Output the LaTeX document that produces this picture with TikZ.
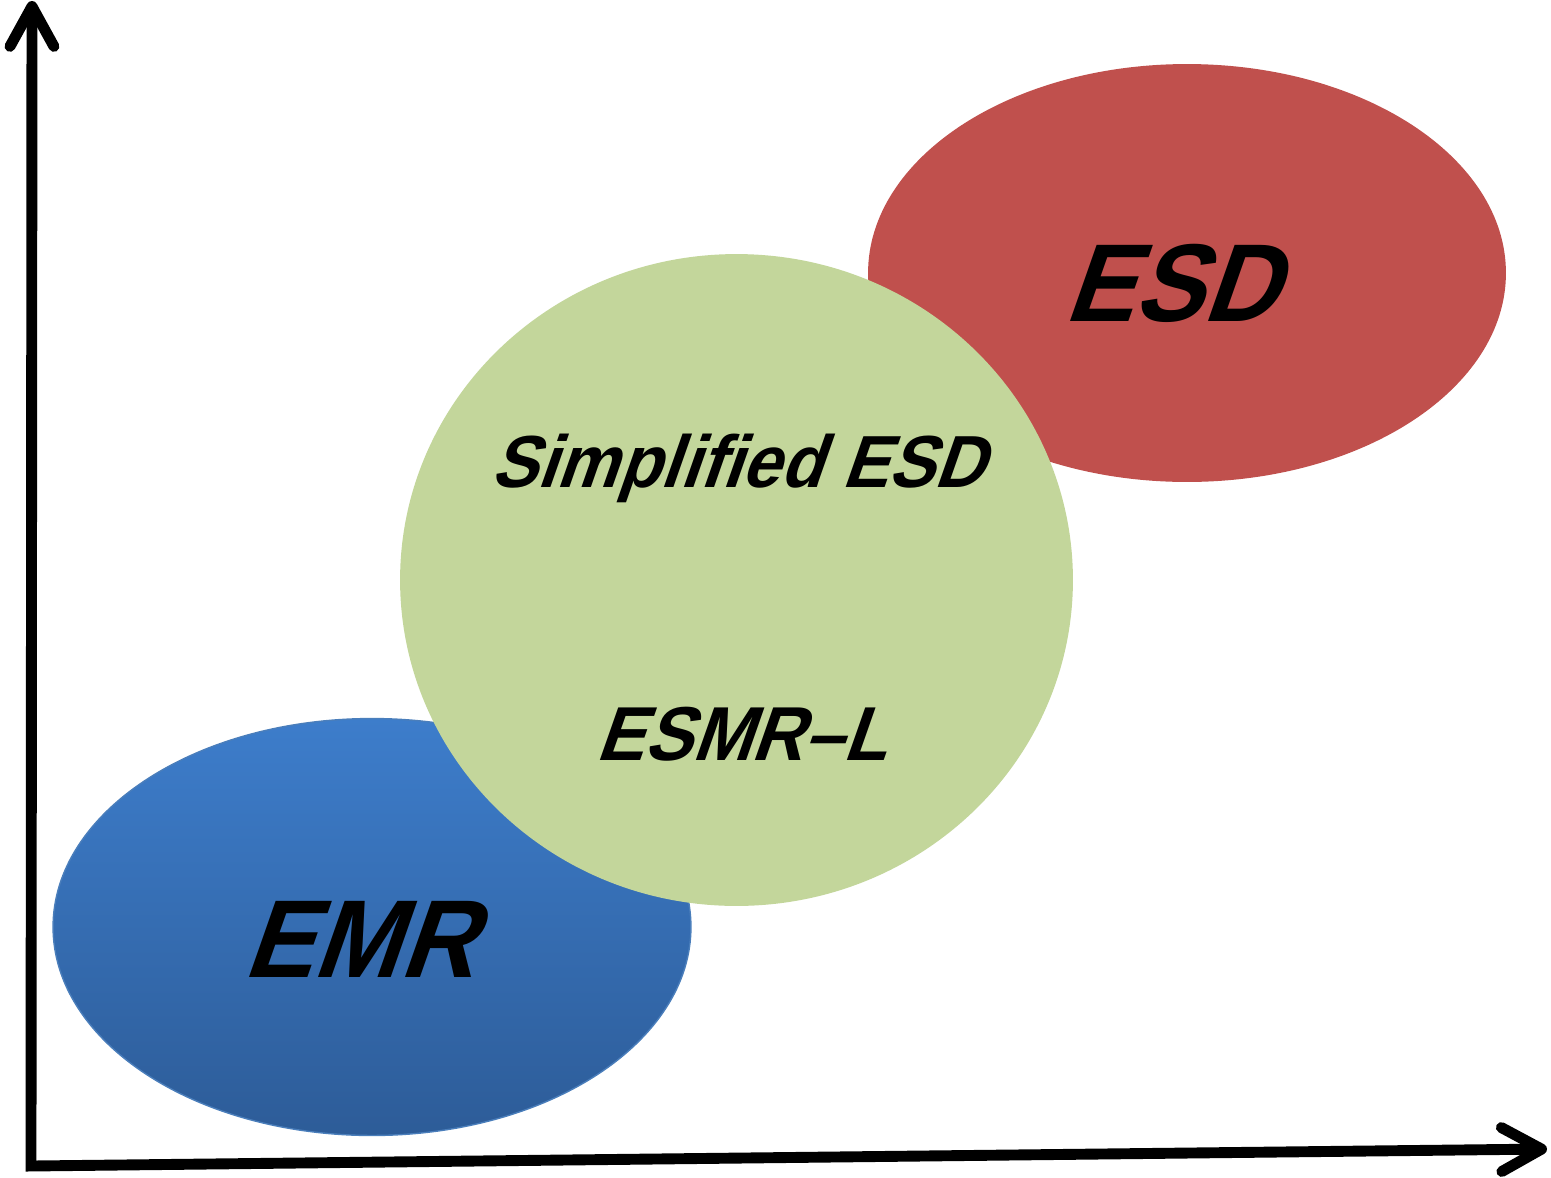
\documentclass[tikz,border=0pt]{standalone}
\usepackage{fontspec}
\setmainfont{Liberation Sans}
\newfontfamily\labelfont[UprightFont={* Bold},FakeSlant=0.35,FakeStretch=0.94]{Liberation Sans}
\usetikzlibrary{arrows.meta,shapes.geometric}

\definecolor{emrtop}{HTML}{3D7DCB}
\definecolor{emrbot}{HTML}{2D5C98}
\definecolor{emredge}{HTML}{4A7EBB}
\definecolor{esdred}{HTML}{C0504D}
\definecolor{simpgreen}{HTML}{C3D69B}

\begin{document}
\begin{tikzpicture}[
      x=0.02cm,y=-0.02cm,
      myellipse/.style={
         ellipse,
         inner sep=0pt,
         outer sep=0pt},
      bigtxt/.style={
         anchor=base,
         inner sep=0pt,
         font=\labelfont\fontsize{63}{70}\selectfont},
      midtxt/.style={
         anchor=base,
         inner sep=0pt,
         font=\labelfont\fontsize{43.5}{48}\selectfont},
      myaxis/.style={
         line width=6.2pt,
         line join=miter,
         {Straight Barb[length=0.8cm,width=0.88cm,round]}-{Straight Barb[length=0.8cm,width=0.88cm,round]}}
      ]
      \useasboundingbox (0,0) rectangle (1551,1177);

      % the three regions, green one on top
      \node[myellipse,minimum width=12.76cm,minimum height=8.34cm,
            top color=emrtop,bottom color=emrbot,draw=emredge,line width=0.8pt] (emr) at (372,927) {};
      \node[myellipse,minimum width=12.76cm,minimum height=8.36cm,fill=esdred] (esd) at (1187,273) {};
      \node[myellipse,minimum width=13.46cm,minimum height=13.04cm,fill=simpgreen] (simp) at (736.5,580) {};

      \node[bigtxt] (emrtxt) at (358,977) {EMR};
      \node[bigtxt] (esdtxt) at (1170,321) {ESD};
      \node[midtxt,font=\labelfont\fontsize{42}{48}\selectfont] (simptxt) at (737,487) {Simplified ESD};
      \node[midtxt] (esmrtxt) at (741,760) {ESMR\textendash L};

      % axes
      \coordinate (ytip) at (32,1);
      \coordinate (orig) at (31,1166);
      \coordinate (xtip) at (1547,1149);
      \draw[myaxis] (ytip) -- (orig) -- (xtip);

    \end{tikzpicture}
\end{document}
